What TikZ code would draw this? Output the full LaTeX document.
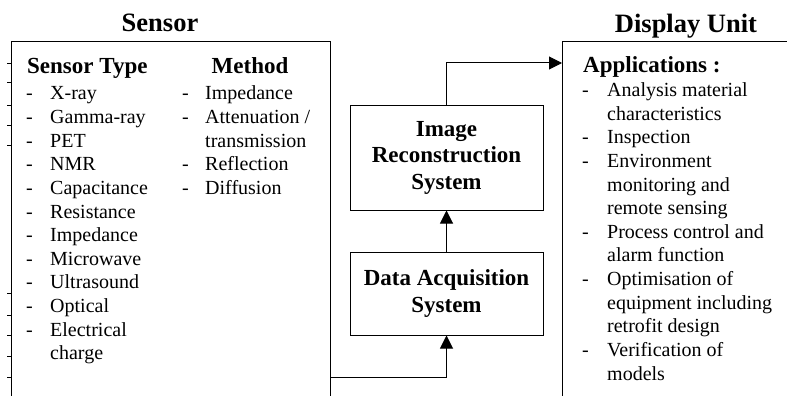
\documentclass[tikz,border=0pt]{standalone}
\usepackage{fontspec}
\setmainfont{Liberation Serif}
\usetikzlibrary{arrows.meta}
\begin{document}
\begin{tikzpicture}[x=1pt,y=-1pt,
  frame/.style={draw, line width=1pt, inner sep=0pt, anchor=north west},
  blockbox/.style={draw, line width=1pt, minimum width=193pt, align=center, inner sep=0pt, font=\fontsize{23}{26.5}\selectfont\bfseries},
  item/.style={anchor=base west, inner sep=0pt, font=\fontsize{20}{24}\selectfont},
  head/.style={inner sep=0pt, font=\fontsize{23}{27}\selectfont\bfseries},
  title/.style={anchor=base, inner sep=0pt, font=\fontsize{26.5}{30}\selectfont\bfseries},
  arr/.style={line width=1pt, -{Triangle[length=13pt,width=13pt]}},
  tick/.style={line width=0.8pt}]
\useasboundingbox (0,0) rectangle (787,396);
\clip (0,0) rectangle (787,396);
% frames
\node[frame, minimum width=319pt, minimum height=380pt] (sensor) at (11,41) {};
\node[frame, minimum width=250pt, minimum height=380pt] (display) at (562,41) {};
% titles
\node[title] (tsensor) at (160,32) {Sensor};
\node[title] (tdisplay) at (686,33) {Display Unit};
% sensor column
\node[head, anchor=base west] (hst) at (27,74) {Sensor Type};
\node[head, anchor=base] (hmeth) at (250,74) {Method};
\foreach \k/\t in {0/X-ray,1/Gamma-ray,2/PET,3/NMR,4/Capacitance,5/Resistance,6/Impedance,7/Microwave,8/Ultrasound,9/Optical,10/Electrical,11/charge}
  \node[item] (st\k) at (50,{99.8+23.64*\k}) {\t};
\foreach \k in {0,...,10}
  \node[item] (sd\k) at (26,{99.8+23.64*\k}) {-};
\foreach \k/\t in {0/Impedance,1/{Attenuation /},2/transmission,3/Reflection,4/Diffusion}
  \node[item] (mt\k) at (205,{99.8+23.64*\k}) {\t};
\foreach \k in {0,1,3,4}
  \node[item] (md\k) at (182,{99.8+23.64*\k}) {-};
% display column
\node[head, anchor=base west] (happ) at (583,73) {Applications :};
\foreach \k/\t in {0/Analysis material,1/characteristics,2/Inspection,3/Environment,4/monitoring and,5/remote sensing,6/Process control and,7/alarm function,8/Optimisation of,9/equipment including,10/retrofit design,11/Verification of,12/models}
  \node[item] (at\k) at (607,{96.5+23.64*\k}) {\t};
\foreach \k in {0,2,3,6,8,11}
  \node[item] (ad\k) at (582,{96.5+23.64*\k}) {-};
% blocks
\node[blockbox, minimum height=105pt] (irs) at (446.5,157.5) {Image\\Reconstruction\\System};
\node[blockbox, minimum height=83pt] (daq) at (446.5,293.5) {Data Acquisition\\System};
% connectors
\coordinate (c1) at (330,377);
\coordinate (c2) at (562,63);
\draw[arr] (c1) -| (daq.south);
\draw[arr] (daq.north) -- (irs.south);
\draw[arr] (irs.north) |- (c2);
% small ticks on the left edge
\foreach \y in {63,82,105,125,145,293,315,335,356,377}
  \draw[tick] (7,\y) -- (11,\y);
\end{tikzpicture}
\end{document}
